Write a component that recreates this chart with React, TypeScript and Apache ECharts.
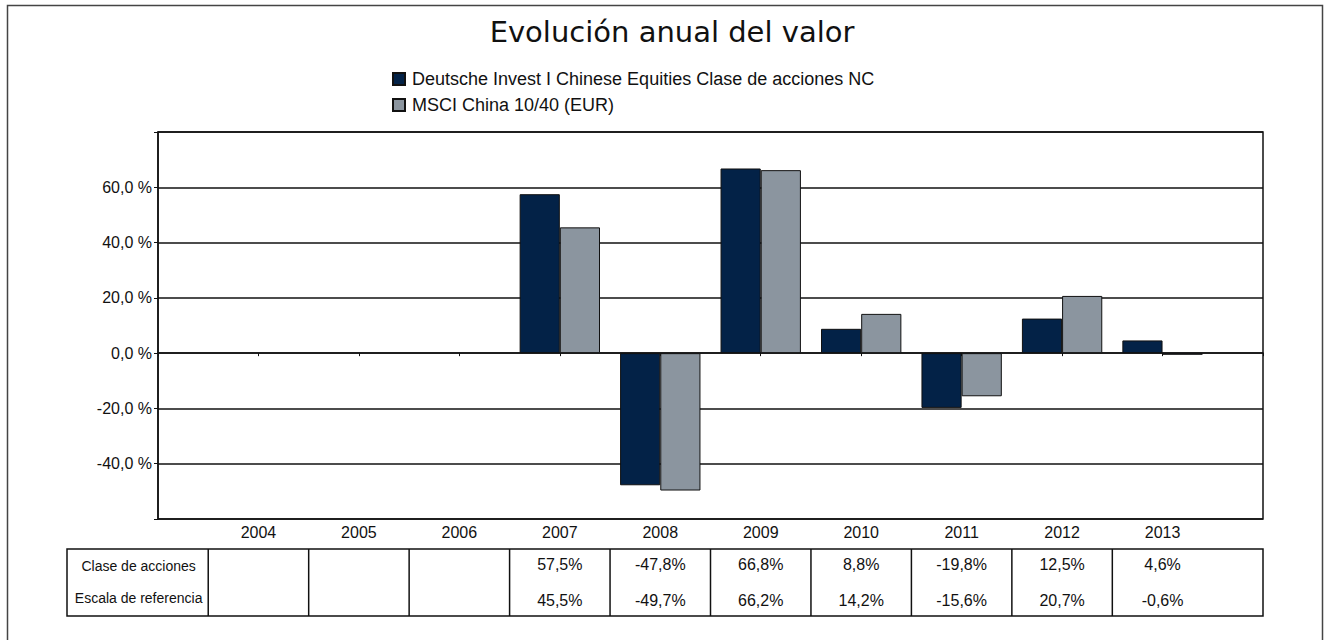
import React, { useEffect, useRef } from "react";
import * as echarts from "echarts";

const years = ["2004", "2005", "2006", "2007", "2008", "2009", "2010", "2011", "2012", "2013"];
const fundName = "Deutsche Invest I Chinese Equities Clase de acciones NC";
const benchName = "MSCI China 10/40 (EUR)";
const fundValues: (number | null)[] = [null, null, null, 57.5, -47.8, 66.8, 8.8, -19.8, 12.5, 4.6];
const benchValues: (number | null)[] = [null, null, null, 45.5, -49.7, 66.2, 14.2, -15.6, 20.7, -0.6];
const rowLabels = ["Clase de acciones", "Escala de referencia"];
const yMin = -60;
const yMax = 80;
const yStep = 20;

const FONT = '"Liberation Sans", Arial, sans-serif';
const DARK = "#032247";
const GRAY = "#8b959f";
const LINE = "#111";

const fmtPct = (v: number | null) => (v === null ? "" : v.toFixed(1).replace(".", ",") + "%");

export default function App() {
  const ref = useRef<HTMLDivElement>(null);
  useEffect(() => {
    if (!ref.current) return;
    const chart = echarts.init(ref.current, null, { renderer: "svg" });
    const cats = ["", ...years, ""];
    chart.setOption({
      animation: false,
      backgroundColor: "#fff",
      title: {
        text: "Evolución anual del valor",
        left: 667,
        textAlign: "center",
        top: 12,
        textStyle: { fontFamily: '"DejaVu Sans", sans-serif', fontSize: 29, fontWeight: "normal", color: "#111" },
      },
      legend: {
        orient: "vertical",
        left: 392,
        top: 70,
        padding: 0,
        itemWidth: 12,
        itemHeight: 12,
        itemGap: 8,
        icon: "rect",
        textStyle: { fontFamily: FONT, fontSize: 18, color: "#111", lineHeight: 18, padding: [0, 0, 0, 2] },
        data: [fundName, benchName],
      },
      grid: {
        left: 158,
        top: 132,
        width: 1105,
        height: 387,
        show: true,
        borderColor: LINE,
        borderWidth: 1.5,
        backgroundColor: "transparent",
      },
      xAxis: {
        type: "category",
        data: cats,
        boundaryGap: false,
        axisLine: { show: true, lineStyle: { color: LINE, width: 1.5 } },
        axisTick: { show: true, length: 3, lineStyle: { color: LINE } },
        axisLabel: { fontFamily: FONT, fontSize: 16, color: "#111", margin: 5, interval: 0 },
        splitLine: { show: false },
      },
      yAxis: {
        type: "value",
        min: yMin,
        max: yMax,
        interval: yStep,
        axisLine: { show: true, lineStyle: { color: LINE, width: 1.5 } },
        axisTick: { show: true, length: 4, lineStyle: { color: LINE } },
        axisLabel: {
          fontFamily: FONT,
          fontSize: 16,
          color: "#111",
          margin: 6,
          formatter: (v: number) => (v === yMin || v === yMax ? "" : v.toFixed(1).replace(".", ",") + " %"),
        },
        splitLine: { show: true, lineStyle: { color: LINE, width: 1.5 } },
      },
      series: [
        {
          name: fundName,
          type: "bar",
          data: [null, ...fundValues, null],
          barCategoryGap: "20%",
          barGap: "0%",
          itemStyle: { color: DARK, borderColor: LINE, borderWidth: 1 },
        },
        {
          name: benchName,
          type: "bar",
          data: [null, ...benchValues, null],
          barCategoryGap: "20%",
          barGap: "0%",
          itemStyle: { color: GRAY, borderColor: LINE, borderWidth: 1 },
        },
      ],
    });

    // table under the chart, positioned from the category axis
    const centers = years.map((y) => chart.convertToPixel({ xAxisIndex: 0 }, y) as number);
    const bw = centers[1] - centers[0];
    const gridRight = chart.convertToPixel({ xAxisIndex: 0 }, cats.length - 1) as number;
    const tTop = 549;
    const tBot = 616;
    const tLeft = 67;
    const row1 = 564;
    const row2 = 600;
    const els: any[] = [];
    els.push({
      type: "rect",
      shape: { x: 7.5, y: 5.5, width: 1315, height: 660 },
      style: { fill: "none", stroke: "#444", lineWidth: 1.5 },
      silent: true,
    });
    els.push({
      type: "rect",
      shape: { x: tLeft, y: tTop, width: gridRight - tLeft, height: tBot - tTop },
      style: { fill: "none", stroke: LINE, lineWidth: 1.5 },
      silent: true,
    });
    centers.forEach((c) => {
      const x = c - bw / 2;
      els.push({
        type: "line",
        shape: { x1: x, y1: tTop, x2: x, y2: tBot },
        style: { stroke: LINE, lineWidth: 1.5 },
        silent: true,
      });
    });
    const labelX = (tLeft + centers[0] - bw / 2) / 2 + 1;
    [row1 + 2, row2 - 2].forEach((y, i) => {
      els.push({
        type: "text",
        x: labelX,
        y,
        style: { text: rowLabels[i], fontFamily: FONT, fontSize: 14, fill: "#111", align: "center", verticalAlign: "middle" },
        silent: true,
      });
    });
    centers.forEach((c, i) => {
      els.push({
        type: "text",
        x: c,
        y: row1,
        style: { text: fmtPct(fundValues[i]), fontFamily: FONT, fontSize: 16, fill: "#111", align: "center", verticalAlign: "middle" },
        silent: true,
      });
      els.push({
        type: "text",
        x: c,
        y: row2,
        style: { text: fmtPct(benchValues[i]), fontFamily: FONT, fontSize: 16, fill: "#111", align: "center", verticalAlign: "middle" },
        silent: true,
      });
    });
    chart.setOption({ graphic: els });
    return () => chart.dispose();
  }, []);
  return <div ref={ref} style={{ position: "absolute", left: 0, top: 0, width: 1325, height: 640 }} />;
}
